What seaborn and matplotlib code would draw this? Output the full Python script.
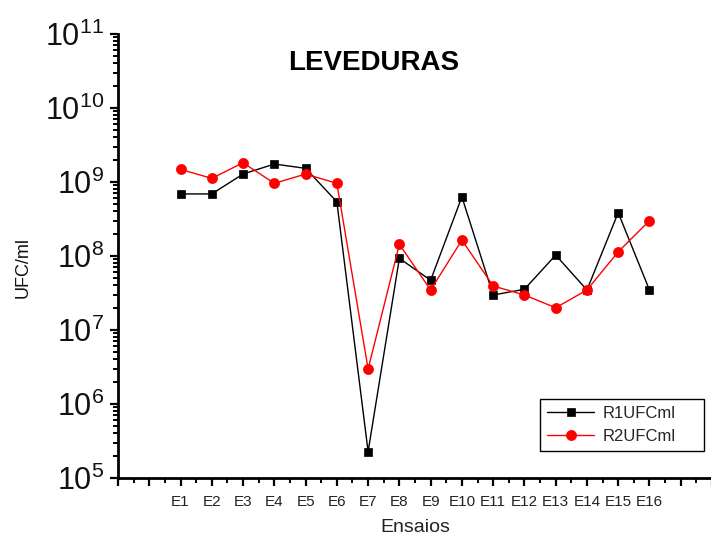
import matplotlib
matplotlib.use("Agg")
import matplotlib.pyplot as plt
import matplotlib.ticker as mticker
import seaborn as sns
import numpy as np

# Trial labels and yeast counts (UFC/ml) for the two replicates
ensaios = ["E1", "E2", "E3", "E4", "E5", "E6", "E7", "E8",
           "E9", "E10", "E11", "E12", "E13", "E14", "E15", "E16"]
r1_ufc = [6.9e8, 6.9e8, 1.28e9, 1.75e9, 1.53e9, 5.4e8, 2.27e5, 9.3e7,
          4.7e7, 6.3e8, 2.97e7, 3.55e7, 1.03e8, 3.47e7, 3.85e8, 3.47e7]
r2_ufc = [1.48e9, 1.12e9, 1.82e9, 9.6e8, 1.28e9, 9.6e8, 2.97e6, 1.44e8,
          3.47e7, 1.64e8, 3.94e7, 2.97e7, 2.0e7, 3.47e7, 1.14e8, 3.0e8]
series_names = ["R1UFCml", "R2UFCml"]
decades = [5, 6, 7, 8, 9, 10, 11]

sns.set_theme(style="ticks")
plt.rcParams["font.family"] = ["Liberation Sans", "DejaVu Sans"]
plt.rcParams["mathtext.fontset"] = "custom"
plt.rcParams["mathtext.rm"] = "Liberation Sans"
plt.rcParams["mathtext.it"] = "Liberation Sans:italic"
plt.rcParams["mathtext.bf"] = "Liberation Sans:bold"

fig = plt.figure(figsize=(7.11, 5.40), dpi=100)
fig.patch.set_facecolor("white")
ax = fig.add_axes([118 / 711, 62 / 540, 594 / 711, 444 / 540])
ax.set_facecolor("white")

pos = np.arange(1, len(ensaios) + 1)
ax.set_yscale("log")

sns.lineplot(x=pos, y=r1_ufc, ax=ax, color="black", lw=1.0, marker="s",
             markersize=6.3, markeredgewidth=0.5, markeredgecolor="black",
             label=series_names[0], errorbar=None)
sns.lineplot(x=pos, y=r2_ufc, ax=ax, color="#ff0000", lw=1.0, marker="o",
             markersize=7.3, markeredgewidth=0.5, markeredgecolor="#ff0000",
             label=series_names[1], errorbar=None)

# Axis ranges
ax.set_xlim(-1, 18)
ax.set_ylim(10.0 ** decades[0], 10.0 ** decades[-1])

# X ticks: one per unit, labels only on the trials
xt = list(range(-1, 19))
ax.xaxis.set_major_locator(mticker.FixedLocator(xt))
lab = {p: e for p, e in zip(pos, ensaios)}
ax.xaxis.set_major_formatter(mticker.FixedFormatter([lab.get(t, "") for t in xt]))
ax.xaxis.set_minor_locator(mticker.MultipleLocator(0.5))

# Y ticks: decades with 10^n labels, minor at 2..9
ax.yaxis.set_major_locator(mticker.FixedLocator([10.0 ** d for d in decades]))
ax.yaxis.set_major_formatter(mticker.FixedFormatter(
    [r"$\mathregular{10^{%d}}$" % d for d in decades]))
ax.yaxis.set_minor_locator(mticker.LogLocator(base=10, subs=np.arange(2, 10)))
ax.yaxis.set_minor_formatter(mticker.NullFormatter())

for s in ["top", "right"]:
    ax.spines[s].set_visible(False)
for s in ["left", "bottom"]:
    ax.spines[s].set_linewidth(2.0)
    ax.spines[s].set_color("black")

ax.tick_params(axis="both", which="major", direction="out", length=6,
               width=1.6, color="black")
ax.tick_params(axis="both", which="minor", direction="out", length=3.5,
               width=1.4, color="black")
ax.tick_params(axis="x", which="major", labelsize=11, pad=6, labelcolor="#222222")
ax.tick_params(axis="y", which="major", labelsize=22, pad=4, labelcolor="#111111")
ax.grid(False)

ax.set_xlabel("Ensaios", fontsize=14, color="#222222")
ax.xaxis.set_label_coords(0.5, -0.093)
ax.xaxis.label.set_va("top")
ax.set_ylabel("UFC/ml", fontsize=13, color="#111111")
ax.yaxis.set_label_coords(-0.146, 0.475)

ax.text(0.431, 0.935, "LEVEDURAS", transform=ax.transAxes, ha="center",
        va="center", fontsize=20, fontweight="bold", color="black")

leg = ax.legend(loc="lower left", bbox_to_anchor=(0.710, 0.0608, 0.2765, 0.124),
                mode="expand", fontsize=12, frameon=True, fancybox=False,
                edgecolor="black", handlelength=2.8, handletextpad=0.5,
                borderpad=0.45, labelspacing=0.45, borderaxespad=0.0)
leg.get_frame().set_linewidth(1.0)
leg.get_frame().set_facecolor("white")
leg.get_frame().set_alpha(1.0)

fig.savefig("out.png", dpi=100, facecolor="white")
